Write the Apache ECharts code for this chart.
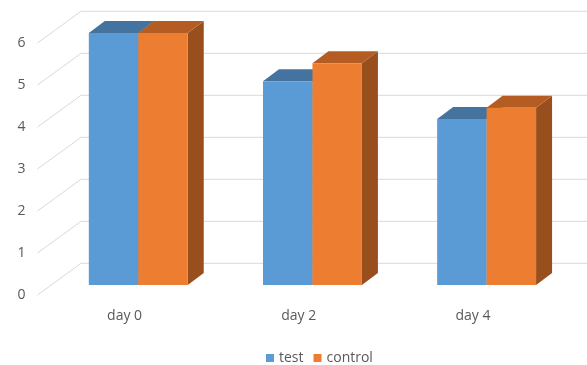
<!DOCTYPE html>
<html>
<head>
<meta charset="utf-8">
<script src="https://cdn.jsdelivr.net/npm/echarts@6/dist/echarts.min.js"></script>
<style>
  html, body { margin: 0; padding: 0; background: #ffffff; }
  #chart { width: 587px; height: 365px; }
</style>
</head>
<body>
<div id="chart"></div>
<script>
// Chart data
const categories = ['day 0', 'day 2', 'day 4'];
const testValues = [6, 4.85, 3.95];
const controlValues = [6, 5.28, 4.22];
const wallTicks = [0, 1, 2, 3, 4, 5, 6];

// Oblique projection offsets (pixels) relative to the front edge of the floor
const WALL = { dx: 43.5, dy: -31.7 };   // back wall
const BARFRONT = { dx: 13.7, dy: -10 }; // front face of the columns
const BARDEPTH = { dx: 16, dy: -12 };   // depth of each column
const BAR_RATIO = 0.284;                // column width as a share of the category band

const chart = echarts.init(document.getElementById('chart'), null, { renderer: 'canvas' });

function columnRenderer(side, colors) {
  return function (params, api) {
    const i = api.value(0);
    const val = api.value(1);
    const base = api.coord([i, 0]);
    const topPt = api.coord([i, val]);
    const band = api.size([1, 0])[0];
    const w = band * BAR_RATIO;
    const x0 = (side === 'left' ? base[0] - w : base[0]) + BARFRONT.dx;
    const x1 = x0 + w;
    const yb = base[1] + BARFRONT.dy;
    const yt = topPt[1] + BARFRONT.dy;
    const dx = BARDEPTH.dx, dy = BARDEPTH.dy;
    return {
      type: 'group',
      children: [
        { type: 'polygon', shape: { points: [[x1, yt], [x1 + dx, yt + dy], [x1 + dx, yb + dy], [x1, yb]] },
          style: { fill: colors.side } },
        { type: 'polygon', shape: { points: [[x0, yt], [x1, yt], [x1 + dx, yt + dy], [x0 + dx, yt + dy]] },
          style: { fill: colors.top } },
        { type: 'rect', shape: { x: x0, y: yt, width: w, height: yb - yt },
          style: { fill: colors.front } }
      ]
    };
  };
}

const option = {
  animation: false,
  backgroundColor: '#ffffff',
  textStyle: { fontFamily: 'Open Sans' },
  grid: { left: 37.5, right: 27, top: 43, bottom: 70, containLabel: false },
  legend: {
    data: ['test', 'control'],
    left: 261,
    top: 346,
    icon: 'rect',
    itemWidth: 8,
    itemHeight: 8,
    itemGap: 10,
    textStyle: { color: '#595959', fontSize: 14, fontFamily: 'Open Sans' }
  },
  xAxis: {
    type: 'category',
    data: categories,
    axisLine: { show: false },
    axisTick: { show: false },
    axisLabel: { color: '#595959', fontSize: 14, margin: 14, fontFamily: 'Open Sans' },
    splitLine: { show: false }
  },
  yAxis: {
    type: 'value',
    min: 0,
    max: 6,
    interval: 1,
    axisLine: { show: false },
    axisTick: { show: false },
    axisLabel: { color: '#595959', fontSize: 14, margin: 12, padding: [4, 0, 0, 0], fontFamily: 'Open Sans' },
    splitLine: { show: false }
  },
  series: [
    {
      // back wall gridlines with the diagonal ticks across the side wall
      type: 'custom',
      name: 'wall',
      silent: true,
      clip: false,
      z: 1,
      data: wallTicks.map(v => [0, v]),
      renderItem: function (params, api) {
        const cs = params.coordSys;
        const y = api.coord([0, api.value(1)])[1];
        const xl = cs.x;
        const xr = cs.x + cs.width + WALL.dx + 20;
        const style = { stroke: '#d9d9d9', lineWidth: 1, fill: null };
        return {
          type: 'group',
          children: [
            { type: 'line', shape: { x1: xl, y1: y, x2: xl + WALL.dx, y2: y + WALL.dy }, style: style },
            { type: 'line', shape: { x1: xl + WALL.dx, y1: y + WALL.dy, x2: xr, y2: y + WALL.dy }, style: style }
          ]
        };
      }
    },
    {
      type: 'custom',
      name: 'test',
      z: 2,
      itemStyle: { color: '#5b9bd5' },
      data: categories.map((c, i) => [i, testValues[i]]),
      encode: { x: 0, y: 1 },
      renderItem: columnRenderer('left', { front: '#5b9bd5', top: '#44739f', side: '#3d6a94' })
    },
    {
      type: 'custom',
      name: 'control',
      z: 3,
      itemStyle: { color: '#ed7d31' },
      data: categories.map((c, i) => [i, controlValues[i]]),
      encode: { x: 0, y: 1 },
      renderItem: columnRenderer('right', { front: '#ed7d31', top: '#b55c22', side: '#994f1d' })
    }
  ]
};

chart.setOption(option);
</script>
</body>
</html>
